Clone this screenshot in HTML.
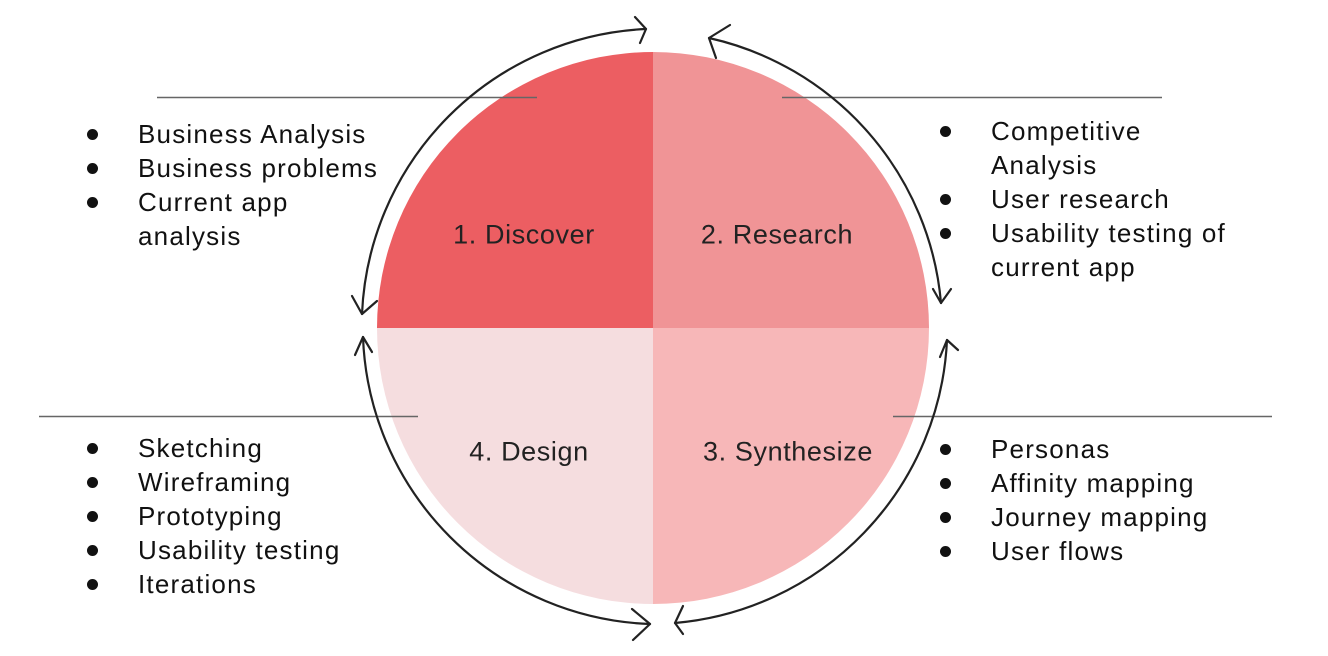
<!DOCTYPE html>
<html><head><style>
body{margin:0;width:1328px;height:656px;background:#fff;overflow:hidden;position:relative;font-family:"Liberation Sans",Arial,sans-serif;}
.t{position:absolute;font-size:26px;letter-spacing:1.2px;color:#111;line-height:34px;white-space:nowrap;}
.t div{position:relative;padding-left:54px;}
.t div:before{content:"";position:absolute;left:3px;top:12px;width:11px;height:11px;border-radius:50%;background:#111;}
.l{position:absolute;font-size:27px;letter-spacing:0.6px;color:#222;transform:translate(-50%,-50%);white-space:nowrap;}
</style></head><body>
<svg width="1328" height="656" style="position:absolute;left:0;top:0">
<path d="M653 328 L377 328 A276 276 0 0 1 653 52 Z" fill="#ec5e62"/>
<path d="M653 328 L653 52 A276 276 0 0 1 929 328 Z" fill="#f09496"/>
<path d="M653 328 L929 328 A276 276 0 0 1 653 604 Z" fill="#f7b7b8"/>
<path d="M653 328 L653 604 A276 276 0 0 1 377 328 Z" fill="#f5dddf"/>
<g stroke="#666" stroke-width="1.5">
<line x1="157" y1="97.5" x2="537" y2="97.5"/>
<line x1="782" y1="97.5" x2="1162" y2="97.5"/>
<line x1="39" y1="416.5" x2="418" y2="416.5"/>
<line x1="893" y1="416.5" x2="1272" y2="416.5"/>
</g>
<g stroke="#222" stroke-width="2.2" fill="none" stroke-linecap="round" stroke-linejoin="round">
<path d="M362 314 A298 298 0 0 1 646 29"/>
<path d="M635 17 L646 29 L640 43"/>
<path d="M709 38 A298 298 0 0 1 941 303"/>
<path d="M730 25 L709 38 L716 58"/>
<path d="M933 289 L941 303 L951 289"/>
<path d="M352 296 L362 314 L377 301"/>
<path d="M363 337 A298 298 0 0 0 650 624"/>
<path d="M355 355 L363 337 L372 352"/>
<path d="M632 609 L650 624 L633 640"/>
<path d="M947 340 A298 298 0 0 1 675 623"/>
<path d="M940 357 L947 340 L958 350"/>
<path d="M683 606 L675 623 L683 634"/>
</g>
</svg>
<div class="l" style="left:524px;top:235px">1. Discover</div>
<div class="l" style="left:777px;top:235px">2. Research</div>
<div class="l" style="left:529px;top:452px">4. Design</div>
<div class="l" style="left:788px;top:452px">3. Synthesize</div>
<div class="t" style="left:84px;top:117px;width:320px">
<div>Business Analysis</div><div>Business problems</div><div>Current app<br>analysis</div></div>
<div class="t" style="left:937px;top:114px;width:320px">
<div>Competitive<br>Analysis</div><div>User research</div><div>Usability testing of<br>current app</div></div>
<div class="t" style="left:84px;top:431px;width:320px">
<div>Sketching</div><div>Wireframing</div><div>Prototyping</div><div>Usability testing</div><div>Iterations</div></div>
<div class="t" style="left:937px;top:432px;width:320px">
<div>Personas</div><div>Affinity mapping</div><div>Journey mapping</div><div>User flows</div></div>
</body></html>
